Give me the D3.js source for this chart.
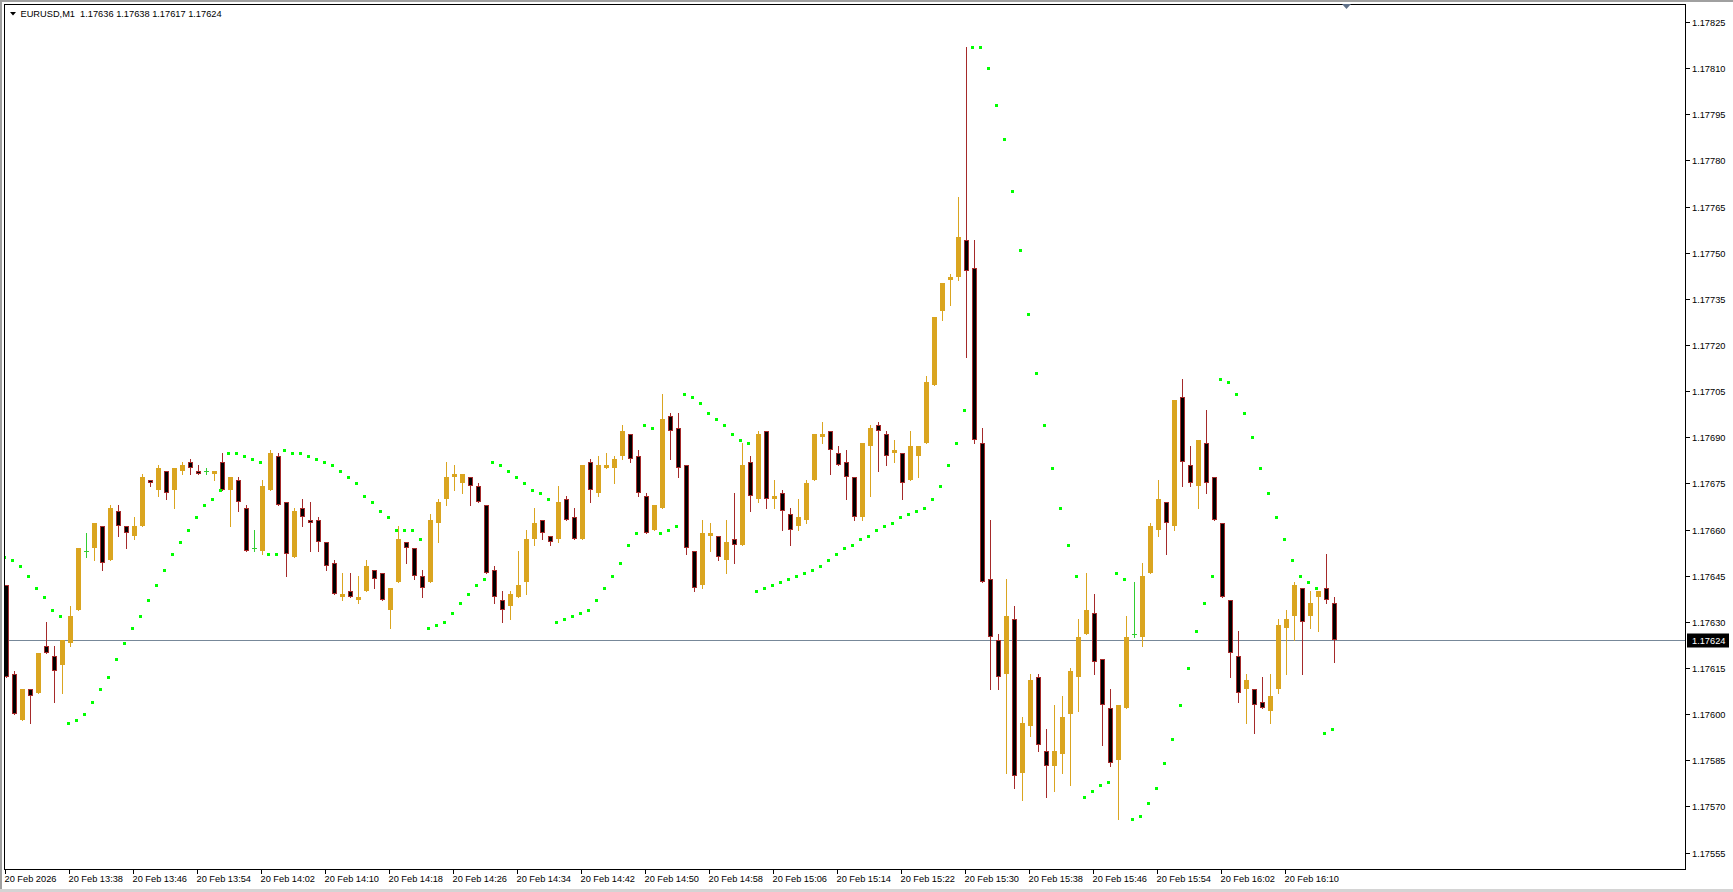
<!DOCTYPE html>
<html><head><meta charset="utf-8">
<script src="https://cdn.jsdelivr.net/npm/d3@7"></script>
<style>
body{margin:0;background:#fff;overflow:hidden}
svg{display:block}
text{font-family:"Liberation Sans",Arial,sans-serif;font-size:9.25px;white-space:pre}
</style>
</head><body>
<svg id="chart" width="1733" height="892"></svg>
<script>
// ---- data (EURUSD M1, bars from 20 Feb 2026 13:30) ----
const symbol = "EURUSD,M1";
const opens = [1.17642,1.17613,1.17598,1.17608,1.17607,1.17622,1.17619,1.17616,1.17623,1.17634,
1.17653,1.17654,1.17661,1.17650,1.17666,1.17661,1.17658,1.17661,1.17676,1.17673,
1.17679,1.17673,1.17679,1.17682,1.17679,1.17679,1.17678,1.17682,1.17673,1.17676,
1.17667,1.17654,1.17653,1.17673,1.17684,1.17669,1.17651,1.17667,1.17663,1.17663,
1.17656,1.17649,1.17638,1.17640,1.17637,1.17640,1.17647,1.17646,1.17634,1.17643,
1.17656,1.17654,1.17645,1.17643,1.17662,1.17670,1.17677,1.17675,1.17677,1.17674,
1.17668,1.17647,1.17637,1.17635,1.17638,1.17643,1.17657,1.17663,1.17658,1.17657,
1.17670,1.17664,1.17657,1.17682,1.17672,1.17680,1.17680,1.17684,1.17691,1.17684,
1.17671,1.17660,1.17667,1.17697,1.17693,1.17681,1.17653,1.17642,1.17658,1.17658,
1.17650,1.17657,1.17655,1.17682,1.17670,1.17692,1.17670,1.17672,1.17665,1.17661,
1.17663,1.17676,1.17690,1.17692,1.17685,1.17682,1.17677,1.17664,1.17687,1.17694,
1.17691,1.17685,1.17685,1.17676,1.17684,1.17688,1.17707,1.17731,1.17741,1.17742,
1.17754,1.17745,1.17688,1.17644,1.17624,1.17613,1.17631,1.17581,1.17596,1.17612,
1.17588,1.17583,1.17587,1.17600,1.17612,1.17626,1.17633,1.17618,1.17602,1.17585,
1.17602,1.17626,1.17625,1.17646,1.17660,1.17669,1.17661,1.17703,1.17681,1.17674,
1.17688,1.17677,1.17662,1.17637,1.17619,1.17608,1.17608,1.17604,1.17601,1.17608,
1.17628,1.17632,1.17641,1.17632,1.17638,1.17641,1.17636];
const highs = [1.17642,1.17614,1.17608,1.17608,1.17620,1.17630,1.17622,1.17624,1.17635,1.17654,
1.17659,1.17662,1.17661,1.17668,1.17668,1.17661,1.17664,1.17678,1.17676,1.17681,
1.17679,1.17680,1.17682,1.17683,1.17681,1.17680,1.17679,1.17685,1.17677,1.17677,
1.17668,1.17660,1.17676,1.17686,1.17685,1.17669,1.17667,1.17670,1.17669,1.17664,
1.17656,1.17650,1.17646,1.17646,1.17645,1.17650,1.17647,1.17646,1.17641,1.17661,
1.17656,1.17654,1.17647,1.17665,1.17670,1.17682,1.17681,1.17678,1.17677,1.17675,
1.17668,1.17648,1.17640,1.17640,1.17653,1.17660,1.17667,1.17663,1.17658,1.17674,
1.17671,1.17667,1.17681,1.17683,1.17684,1.17685,1.17684,1.17694,1.17691,1.17686,
1.17672,1.17668,1.17704,1.17698,1.17698,1.17681,1.17653,1.17663,1.17662,1.17658,
1.17663,1.17672,1.17688,1.17684,1.17692,1.17692,1.17676,1.17673,1.17667,1.17670,
1.17676,1.17691,1.17695,1.17692,1.17687,1.17686,1.17677,1.17688,1.17694,1.17695,
1.17692,1.17689,1.17685,1.17692,1.17687,1.17710,1.17729,1.17740,1.17743,1.17768,
1.17817,1.17754,1.17693,1.17663,1.17626,1.17644,1.17635,1.17599,1.17613,1.17613,
1.17595,1.17603,1.17606,1.17615,1.17631,1.17646,1.17639,1.17618,1.17608,1.17603,
1.17632,1.17643,1.17649,1.17662,1.17676,1.17669,1.17702,1.17709,1.17687,1.17689,
1.17699,1.17677,1.17662,1.17637,1.17627,1.17613,1.17608,1.17612,1.17613,1.17631,
1.17634,1.17643,1.17641,1.17640,1.17640,1.17652,1.17638];
const lows = [1.17612,1.17600,1.17598,1.17597,1.17607,1.17620,1.17604,1.17607,1.17622,1.17634,
1.17651,1.17650,1.17647,1.17650,1.17658,1.17654,1.17657,1.17661,1.17674,1.17671,
1.17670,1.17667,1.17678,1.17678,1.17678,1.17678,1.17676,1.17673,1.17661,1.17666,
1.17653,1.17653,1.17652,1.17673,1.17668,1.17645,1.17651,1.17661,1.17653,1.17653,
1.17647,1.17639,1.17637,1.17638,1.17636,1.17640,1.17641,1.17637,1.17628,1.17643,
1.17649,1.17644,1.17638,1.17643,1.17656,1.17668,1.17673,1.17672,1.17668,1.17669,
1.17646,1.17636,1.17630,1.17631,1.17638,1.17639,1.17655,1.17657,1.17655,1.17656,
1.17663,1.17657,1.17657,1.17669,1.17671,1.17680,1.17675,1.17683,1.17682,1.17671,
1.17659,1.17660,1.17667,1.17683,1.17677,1.17652,1.17640,1.17641,1.17653,1.17650,
1.17646,1.17649,1.17655,1.17666,1.17669,1.17667,1.17667,1.17660,1.17655,1.17660,
1.17662,1.17676,1.17688,1.17678,1.17681,1.17670,1.17663,1.17663,1.17671,1.17679,
1.17681,1.17682,1.17670,1.17676,1.17677,1.17688,1.17707,1.17728,1.17733,1.17741,
1.17716,1.17688,1.17643,1.17608,1.17608,1.17581,1.17576,1.17572,1.17593,1.17588,
1.17573,1.17575,1.17581,1.17577,1.17601,1.17626,1.17613,1.17590,1.17583,1.17566,
1.17602,1.17625,1.17622,1.17646,1.17658,1.17652,1.17660,1.17674,1.17674,1.17667,
1.17672,1.17663,1.17638,1.17612,1.17604,1.17597,1.17594,1.17602,1.17597,1.17607,
1.17613,1.17624,1.17613,1.17628,1.17627,1.17636,1.17617];
const closes = [1.17612,1.17600,1.17608,1.17606,1.17620,1.17620,1.17614,1.17624,1.17632,1.17654,
1.17653,1.17662,1.17649,1.17667,1.17661,1.17659,1.17661,1.17677,1.17675,1.17680,
1.17672,1.17680,1.17681,1.17680,1.17678,1.17679,1.17679,1.17673,1.17677,1.17669,
1.17653,1.17654,1.17674,1.17685,1.17668,1.17652,1.17666,1.17664,1.17662,1.17656,
1.17648,1.17639,1.17639,1.17638,1.17638,1.17648,1.17644,1.17637,1.17641,1.17657,
1.17654,1.17645,1.17641,1.17663,1.17669,1.17677,1.17678,1.17678,1.17674,1.17669,
1.17646,1.17638,1.17634,1.17639,1.17642,1.17657,1.17662,1.17659,1.17656,1.17669,
1.17663,1.17657,1.17681,1.17673,1.17681,1.17681,1.17683,1.17692,1.17683,1.17672,
1.17659,1.17668,1.17696,1.17692,1.17680,1.17654,1.17641,1.17659,1.17659,1.17651,
1.17656,1.17655,1.17681,1.17671,1.17691,1.17670,1.17671,1.17666,1.17660,1.17664,
1.17675,1.17691,1.17691,1.17686,1.17681,1.17677,1.17664,1.17688,1.17693,1.17692,
1.17684,1.17686,1.17675,1.17687,1.17687,1.17708,1.17729,1.17740,1.17742,1.17755,
1.17744,1.17689,1.17643,1.17625,1.17612,1.17632,1.17580,1.17597,1.17611,1.17590,
1.17583,1.17588,1.17599,1.17614,1.17625,1.17634,1.17617,1.17603,1.17584,1.17603,
1.17625,1.17626,1.17645,1.17661,1.17670,1.17662,1.17702,1.17682,1.17675,1.17689,
1.17675,1.17663,1.17638,1.17620,1.17607,1.17611,1.17603,1.17602,1.17606,1.17629,
1.17631,1.17642,1.17630,1.17636,1.17640,1.17637,1.17624];
const sar = [1.17651,1.17650,1.17648,1.17645,1.17641,1.17638,1.17634,1.17632,1.17597,1.17598,
1.17600,1.17604,1.17608,1.17612,1.17618,1.17623,1.17628,1.17632,1.17637,1.17642,
1.17647,1.17652,1.17656,1.17660,1.17664,1.17668,1.17670,1.17673,1.17685,1.17685,
1.17684,1.17683,1.17682,1.17652,1.17652,1.17686,1.17685,1.17685,1.17684,1.17683,
1.17682,1.17681,1.17679,1.17677,1.17675,1.17671,1.17669,1.17666,1.17664,1.17660,
1.17660,1.17660,1.17657,1.17628,1.17629,1.17630,1.17633,1.17636,1.17639,1.17642,
1.17644,1.17682,1.17681,1.17679,1.17677,1.17675,1.17673,1.17672,1.17670,1.17630,
1.17631,1.17632,1.17633,1.17634,1.17637,1.17641,1.17645,1.17649,1.17655,1.17659,
1.17694,1.17693,1.17659,1.17660,1.17661,1.17704,1.17703,1.17701,1.17698,1.17696,
1.17694,1.17691,1.17689,1.17688,1.17640,1.17641,1.17642,1.17643,1.17644,1.17645,
1.17646,1.17647,1.17648,1.17650,1.17652,1.17654,1.17655,1.17657,1.17658,1.17660,
1.17661,1.17662,1.17664,1.17665,1.17666,1.17667,1.17670,1.17674,1.17681,1.17688,
1.17699,1.17817,1.17817,1.17810,1.17798,1.17787,1.17770,1.17751,1.17730,1.17711,
1.17694,1.17680,1.17667,1.17655,1.17645,1.17573,1.17575,1.17577,1.17578,1.17646,
1.17644,1.17566,1.17567,1.17571,1.17576,1.17584,1.17592,1.17603,1.17615,1.17627,
1.17636,1.17645,1.17709,1.17708,1.17704,1.17698,1.17690,1.17680,1.17672,1.17664,
1.17657,1.17650,1.17645,1.17643,1.17641,1.17594,1.17595];
const priceTicks = [1.17825,1.17810,1.17795,1.17780,1.17765,1.17750,1.17735,1.17720,1.17705,
1.17690,1.17675,1.17660,1.17645,1.17630,1.17615,1.17600,1.17585,1.17570,1.17555];
const timeTickIndex = [0,8,16,24,32,40,48,56,64,72,80,88,96,104,112,120,128,136,144,152,160];
const timeTickLabels = ["20 Feb 2026","20 Feb 13:38","20 Feb 13:46","20 Feb 13:54","20 Feb 14:02",
"20 Feb 14:10","20 Feb 14:18","20 Feb 14:26","20 Feb 14:34","20 Feb 14:42","20 Feb 14:50",
"20 Feb 14:58","20 Feb 15:06","20 Feb 15:14","20 Feb 15:22","20 Feb 15:30","20 Feb 15:38",
"20 Feb 15:46","20 Feb 15:54","20 Feb 16:02","20 Feb 16:10"];

// ---- layout / style ----
const W = 1733, H = 892;
const L = 4, T = 4, R = 1685, B = 869;
const BULL = "#daa520", BEAR_EDGE = "#a52a2a", DOJI = "#32cd32", SAR_C = "#00ff00";

const svg = d3.select("#chart");
const n = opens.length;
const x = d3.scaleLinear().domain([0, n - 1]).range([6, 6 + 8 * (n - 1)]);
const y = d3.scaleLinear().domain([1.17555, 1.17825]).range([852.5, 22]);

// window frame
svg.append("rect").attr("width", W).attr("height", H).attr("fill", "#fff");
svg.append("rect").attr("x", 0).attr("y", 0).attr("width", W).attr("height", 2).attr("fill", "#a0a0a0");
svg.append("rect").attr("x", 0).attr("y", 0).attr("width", 2).attr("height", H).attr("fill", "#a0a0a0");
svg.append("rect").attr("x", 0).attr("y", 889).attr("width", W).attr("height", 3).attr("fill", "#d4d4d4");

const clip = svg.append("defs").append("clipPath").attr("id", "plot");
clip.append("rect").attr("x", L).attr("y", T).attr("width", R - L).attr("height", B - T);
const g = svg.append("g").attr("clip-path", "url(#plot)");

// current price line
const last = closes[n - 1];
const yLast = Math.round(y(last)) + 0.5;
g.append("line").attr("x1", L).attr("x2", R).attr("y1", yLast).attr("y2", yLast)
  .attr("stroke", "#778899").attr("stroke-width", 1);

// candles
const idx = d3.range(n);
const cg = g.append("g");
idx.forEach(i => {
  const o = opens[i], c = closes[i], h = highs[i], l = lows[i];
  const cx = Math.round(x(i));
  const doji = Math.abs(o - c) < 1e-7;
  const bull = c > o;
  const col = doji ? DOJI : (bull ? BULL : BEAR_EDGE);
  const yh = Math.round(y(h)), yl = Math.round(y(l));
  cg.append("rect").attr("x", cx).attr("y", yh).attr("width", 1).attr("height", Math.max(1, yl - yh + 1)).attr("fill", col);
  if (doji) {
    cg.append("rect").attr("x", cx - 2).attr("y", Math.round(y(o))).attr("width", 5).attr("height", 1).attr("fill", DOJI);
    return;
  }
  const yt = Math.round(y(Math.max(o, c))), yb = Math.round(y(Math.min(o, c)));
  if (bull) {
    cg.append("rect").attr("x", cx - 2).attr("y", yt).attr("width", 5).attr("height", Math.max(1, yb - yt)).attr("fill", BULL);
  } else {
    const hh = Math.max(2, yb - yt);
    cg.append("rect").attr("x", cx - 2).attr("y", yt).attr("width", 5).attr("height", hh).attr("fill", BEAR_EDGE);
    if (hh > 2) cg.append("rect").attr("x", cx - 1).attr("y", yt + 1).attr("width", 3).attr("height", hh - 2).attr("fill", "#000");
  }
});

// parabolic SAR
g.append("g").selectAll("rect").data(idx).join("rect")
  .attr("x", i => Math.round(x(i)) - 3).attr("y", i => Math.round(y(sar[i])) - 1)
  .attr("width", 3).attr("height", 3).attr("fill", SAR_C);

// frame lines
const frame = svg.append("g").attr("stroke", "#000").attr("stroke-width", 1).attr("shape-rendering", "crispEdges");
frame.append("line").attr("x1", L).attr("x2", R).attr("y1", T + 0.5).attr("y2", T + 0.5);
frame.append("line").attr("x1", L + 0.5).attr("x2", L + 0.5).attr("y1", T).attr("y2", B);
frame.append("line").attr("x1", L).attr("x2", R + 1).attr("y1", B + 0.5).attr("y2", B + 0.5);
frame.append("line").attr("x1", R + 0.5).attr("x2", R + 0.5).attr("y1", T).attr("y2", B + 1);

// price axis
const yAxis = svg.append("g");
priceTicks.forEach(p => {
  const yy = Math.round(y(p)) + 0.5;
  yAxis.append("line").attr("x1", R + 1).attr("x2", R + 5).attr("y1", yy).attr("y2", yy).attr("stroke", "#000");
  yAxis.append("text").attr("x", R + 7).attr("y", yy + 3.3).attr("fill", "#000").text(p.toFixed(5));
});
// current price label
yAxis.append("rect").attr("x", R + 2).attr("y", yLast - 7).attr("width", 42).attr("height", 14).attr("fill", "#000");
yAxis.append("text").attr("x", R + 7).attr("y", yLast + 3.3).attr("fill", "#fff").text(last.toFixed(5));

// time axis
const xAxis = svg.append("g");
timeTickIndex.forEach((i, k) => {
  const xx = Math.round(x(i)) - 0.5;
  xAxis.append("line").attr("x1", xx).attr("x2", xx).attr("y1", B).attr("y2", B + 5).attr("stroke", "#000");
  xAxis.append("text").attr("x", xx - 1).attr("y", 882).attr("fill", "#000").text(timeTickLabels[k]);
});

// title
svg.append("path").attr("d", "M10,12 L16,12 L13,15.5 Z").attr("fill", "#000");
svg.append("text").attr("x", 20.5).attr("y", 16.5).attr("fill", "#000")
  .text(symbol + "  " + [opens[n-1], highs[n-1], lows[n-1], closes[n-1]].map(v => v.toFixed(5)).join(" "));

// chart shift marker
svg.append("path").attr("d", "M1342,4 L1351,4 L1346.5,9 Z").attr("fill", "#5f7088");
</script>
</body></html>
